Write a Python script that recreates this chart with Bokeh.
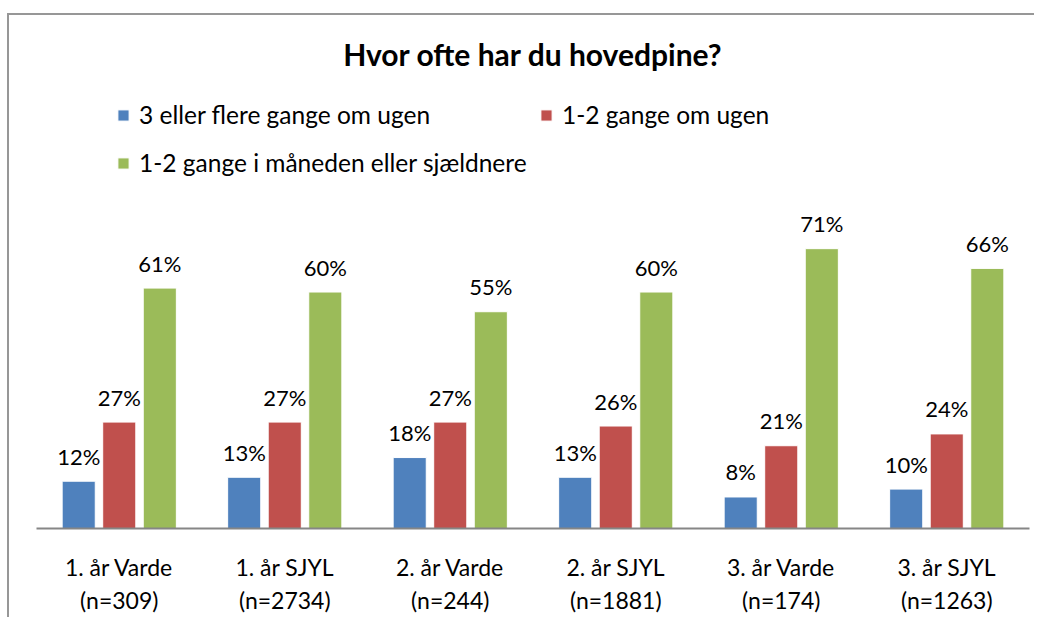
from bokeh.plotting import figure
from bokeh.layouts import column
from bokeh.models import ColumnDataSource, FactorRange, Range1d, Legend, LegendItem, InlineStyleSheet
from bokeh.transform import dodge
from bokeh.core.properties import value
from bokeh.embed import file_html
from bokeh.resources import INLINE

categories = ["1. år Varde\n(n=309)", "1. år SJYL\n(n=2734)", "2. år Varde\n(n=244)",
              "2. år SJYL\n(n=1881)", "3. år Varde\n(n=174)", "3. år SJYL\n(n=1263)"]
series_names = ["3 eller flere gange om ugen", "1-2 gange om ugen",
                "1-2 gange i måneden eller sjældnere"]
blue_vals = [12, 13, 18, 13, 8, 10]
red_vals = [27, 27, 27, 26, 21, 24]
green_vals = [61, 60, 55, 60, 71, 66]
colors = ["#4F81BD", "#C0504D", "#9BBB59"]
FONT = "Lato"

src = ColumnDataSource(dict(
    cat=categories,
    blue=blue_vals, red=red_vals, green=green_vals,
    blue_lbl=[f"{v}%" for v in blue_vals],
    red_lbl=[f"{v}%" for v in red_vals],
    green_lbl=[f"{v}%" for v in green_vals],
))

p = figure(x_range=FactorRange(*categories, range_padding=0),
           y_range=Range1d(0, 112.4),
           frame_width=993, frame_height=443,
           min_border_left=27, min_border_right=5, min_border_top=70, min_border_bottom=10,
           output_backend="svg", toolbar_location=None)

p.title.text = "Hvor ofte har du hovedpine?"
p.title.align = "center"
p.title.text_font = FONT
p.title.text_font_size = "30px"
p.title.text_font_style = "bold"
p.title.text_color = "black"
p.title.standoff = 28

offsets = [-0.245, 0.0, 0.245]
keys = ["blue", "red", "green"]
renderers = []
for k, off, c in zip(keys, offsets, colors):
    r = p.vbar(x=dodge("cat", off, range=p.x_range), top=k, width=0.2, source=src,
               fill_color=c, line_color="white", line_width=1)
    renderers.append(r)
    p.text(x=dodge("cat", off, range=p.x_range), y=k, text=k + "_lbl", source=src,
           text_align="center", text_baseline="alphabetic", y_offset=-25,
           text_font=value(FONT), text_font_size="22px", text_color="black")

leg1 = Legend(items=[LegendItem(label=series_names[0], renderers=[renderers[0]]),
                     LegendItem(label=series_names[1], renderers=[renderers[1]])],
              orientation="horizontal", location=(80, 399))
leg2 = Legend(items=[LegendItem(label=series_names[2], renderers=[renderers[2]])],
              orientation="horizontal", location=(80, 351))
for lg in (leg1, leg2):
    lg.padding = 0
    lg.margin = 0
    lg.spacing = 10
    lg.border_line_color = None
    lg.background_fill_alpha = 0
    lg.glyph_width = 14
    lg.glyph_height = 14
    lg.label_standoff = 9
    lg.label_height = 22
    lg.label_width = 390
    lg.label_text_font = FONT
    lg.label_text_font_size = "24.5px"
    lg.label_text_color = "black"
    lg.label_text_baseline = "middle"
    p.add_layout(lg)

p.yaxis.visible = False
p.xgrid.grid_line_color = None
p.ygrid.grid_line_color = None
p.outline_line_color = None
p.xaxis.axis_line_color = "#868686"
p.xaxis.axis_line_width = 2
p.xaxis.major_tick_line_color = None
p.xaxis.minor_tick_line_color = None
p.xaxis.major_tick_out = 0
p.xaxis.major_tick_in = 0
p.xaxis.major_label_standoff = 24
p.xaxis.major_label_text_font = FONT
p.xaxis.major_label_text_font_size = "23px"
p.xaxis.major_label_text_color = "black"

frame_css = InlineStyleSheet(css=":host { border-top: 2px solid #979797; "
                                 "border-left: 2px solid #979797; }")
page = column(p, styles={"margin-top": "13px", "margin-left": "7px"},
              stylesheets=[frame_css])

open("out.html", "w").write(file_html(page, INLINE))
